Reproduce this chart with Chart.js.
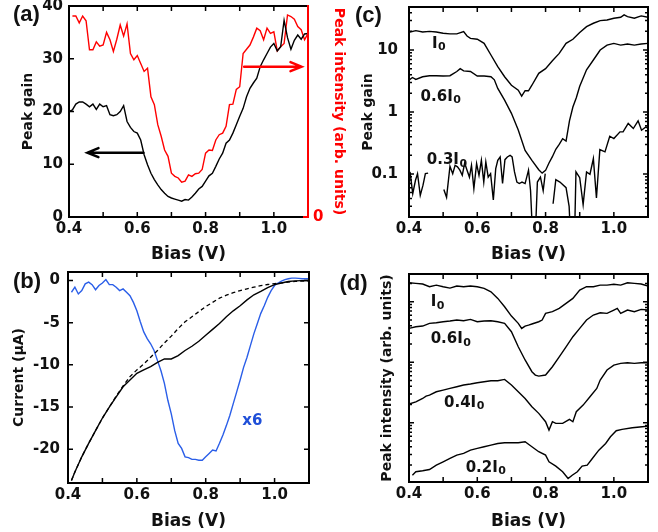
<!DOCTYPE html>
<html>
<head>
<meta charset="utf-8">
<script src="https://cdn.jsdelivr.net/npm/chart.js@4.4.0/dist/chart.umd.min.js"></script>
<style>
  html, body { margin: 0; padding: 0; background: #fff; }
  #wrap { position: relative; width: 658px; height: 532px; overflow: hidden; }
  canvas { position: absolute; }
</style>
</head>
<body>
<div id="wrap">
  <canvas id="pa" width="350" height="265" style="left:0;top:0;width:350px;height:265px"></canvas>
  <canvas id="pc" width="328" height="265" style="left:330px;top:0;width:328px;height:265px"></canvas>
  <canvas id="pb" width="330" height="267" style="left:0;top:265px;width:330px;height:267px"></canvas>
  <canvas id="pd" width="328" height="267" style="left:330px;top:265px;width:328px;height:267px"></canvas>
</div>
<script>
// ---- data ----
const xTickValues = [0.4, 0.5, 0.6, 0.7, 0.8, 0.9, 1.0, 1.1];
const xTickLabels = ['0.4', '', '0.6', '', '0.8', '', '1.0', ''];

// (a) peak gain (left axis) and peak intensity (right axis, arb. units)
const aBias = [0.40, 0.41, 0.42, 0.43, 0.44, 0.45, 0.46, 0.47, 0.48, 0.49, 0.50, 0.51, 0.52, 0.53, 0.54, 0.55,
  0.56, 0.57, 0.58, 0.59, 0.60, 0.61, 0.62, 0.63, 0.64, 0.65, 0.66, 0.67, 0.68, 0.69, 0.70, 0.71, 0.72, 0.73,
  0.74, 0.75, 0.76, 0.77, 0.78, 0.79, 0.80, 0.81, 0.82, 0.83, 0.84, 0.85, 0.86, 0.87, 0.88, 0.89, 0.90, 0.91,
  0.92, 0.93, 0.94, 0.95, 0.96, 0.97, 0.98, 0.99, 1.00, 1.01, 1.02, 1.03, 1.04, 1.05, 1.06, 1.07, 1.08, 1.09, 1.10];
const aGain = [20.0, 20.3, 21.4, 21.8, 21.8, 21.4, 20.9, 21.4, 20.4, 21.4, 20.9, 21.1, 19.4, 19.2, 19.4, 20.0,
  21.1, 18.1, 17.0, 16.2, 15.9, 14.6, 11.8, 9.9, 8.3, 7.1, 6.1, 5.2, 4.5, 3.9, 3.6, 3.4, 3.2, 3.0,
  3.3, 3.2, 3.8, 4.5, 5.3, 5.8, 6.8, 7.8, 8.3, 9.6, 11.0, 12.1, 14.0, 14.6, 15.9, 17.5, 19.1, 20.6,
  22.8, 24.4, 25.4, 26.3, 28.5, 29.8, 31.0, 32.2, 32.9, 31.5, 32.3, 37.3, 34.0, 31.8, 33.5, 34.5, 33.7, 34.7, 34.8];
const aIntensity = [null, 38.1, 38.1, 36.8, 38.1, 37.2, 31.7, 31.7, 33.2, 32.4, 32.6, 35.0, 33.6, 31.4, 33.7, 36.4,
  34.3, 36.6, 31.0, 29.8, 30.6, 29.1, 27.6, 28.2, 22.8, 21.3, 17.5, 15.3, 12.7, 11.5, 8.3, 7.7, 7.4, 6.6,
  6.8, 8.0, 7.7, 8.2, 8.3, 9.0, 12.1, 12.7, 12.6, 14.6, 15.6, 15.9, 17.2, 21.3, 21.4, 24.2, 24.7, 31.0,
  31.8, 32.6, 34.1, 35.8, 35.3, 33.6, 35.8, 34.8, 35.1, 31.5, 32.3, 32.9, 38.3, 38.0, 37.5, 36.1, 35.5, 33.6, 34.8];
const aGainTicks = [0, 10, 20, 30, 40];
const aArrows = [
  { from: 0.618, to: 0.454, y: 12.2, color: '#000', axis: 'y' },
  { from: 0.913, to: 1.081, y: 28.5, color: '#ff0000', axis: 'y' }
];

// (b) current
const bBias = [0.41, 0.42, 0.44, 0.46, 0.48, 0.50, 0.52, 0.54, 0.56, 0.58, 0.60, 0.62, 0.64, 0.66, 0.68, 0.70,
  0.72, 0.74, 0.76, 0.78, 0.80, 0.82, 0.84, 0.86, 0.88, 0.90, 0.92, 0.94, 0.96, 0.98, 1.00, 1.02, 1.04, 1.06, 1.08, 1.10];
const bCurrent = [-23.7, -22.7, -20.9, -19.3, -17.8, -16.3, -15.0, -13.8, -12.6, -11.8, -11.0, -10.6, -10.2, -9.7, -9.3, -9.3,
  -8.9, -8.3, -7.8, -7.2, -6.5, -5.8, -5.1, -4.3, -3.6, -3.0, -2.3, -1.7, -1.3, -0.85, -0.5, -0.3, -0.12, -0.05, -0.02, 0];
const bFit = [-23.7, -22.7, -20.9, -19.3, -17.8, -16.3, -15.0, -13.7, -12.5, -11.4, -10.6, -9.9, -9.1, -8.3, -7.4, -6.6,
  -5.7, -4.9, -4.3, -3.7, -3.1, -2.6, -2.1, -1.75, -1.45, -1.2, -1.0, -0.8, -0.62, -0.48, -0.38, -0.3, -0.2, -0.12, -0.08, -0.05];
const bBlueBias = [0.41, 0.42, 0.43, 0.44, 0.45, 0.46, 0.47, 0.48, 0.49, 0.50, 0.51, 0.52, 0.53, 0.54, 0.55, 0.56,
  0.57, 0.58, 0.59, 0.60, 0.61, 0.62, 0.63, 0.64, 0.65, 0.66, 0.67, 0.68, 0.69, 0.70, 0.71, 0.72, 0.73, 0.74,
  0.75, 0.76, 0.77, 0.78, 0.79, 0.80, 0.81, 0.82, 0.83, 0.84, 0.85, 0.86, 0.87, 0.88, 0.89, 0.90, 0.91, 0.92,
  0.93, 0.94, 0.95, 0.96, 0.97, 0.98, 0.99, 1.00, 1.01, 1.02, 1.03, 1.04, 1.05, 1.06, 1.07, 1.08, 1.09, 1.10];
const bBlue = [-1.4, -0.8, -1.6, -1.2, -0.4, -0.2, -0.5, -1.1, -0.6, -0.3, 0.1, -0.5, -0.5, -0.8, -1.2, -1.0,
  -1.4, -1.8, -2.6, -3.6, -4.9, -6.1, -6.9, -7.5, -8.3, -9.5, -10.7, -12.2, -14.2, -15.8, -17.8, -19.3, -19.9, -20.9,
  -21.0, -21.2, -21.2, -21.3, -21.3, -20.9, -20.5, -20.1, -20.2, -19.3, -18.3, -17.2, -16.0, -14.6, -13.2, -11.8, -10.3, -9.1,
  -7.7, -6.3, -5.1, -3.9, -3.0, -2.0, -1.2, -0.6, -0.3, -0.08, 0.1, 0.2, 0.28, 0.28, 0.25, 0.2, 0.2, 0.2];
const bTicks = [0, -5, -10, -15, -20];

// (c) peak gain, log axis
const cI0Bias = [0.40, 0.42, 0.44, 0.46, 0.48, 0.50, 0.52, 0.54, 0.56, 0.57, 0.58, 0.60, 0.62, 0.64, 0.66, 0.68,
  0.70, 0.72, 0.73, 0.74, 0.75, 0.76, 0.78, 0.80, 0.82, 0.84, 0.86, 0.88, 0.90, 0.92, 0.94, 0.96, 0.98, 1.00,
  1.02, 1.03, 1.04, 1.06, 1.08, 1.10];
const cI0 = [19.3, 20.5, 19.5, 20, 19.5, 18.6, 18.2, 18.2, 19.8, 16.8, 15.4, 14.9, 12.8, 8.3, 5.4, 3.7,
  2.7, 2.25, 1.8, 2.2, 2.2, 2.7, 4.2, 5.0, 6.7, 8.8, 12.8, 14.9, 19.1, 23.8, 27, 29.8, 30.5, 32.5,
  33.8, 36.8, 34.6, 32.5, 35.5, 33.8];
const c06Bias = [0.40, 0.41, 0.42, 0.44, 0.46, 0.48, 0.50, 0.52, 0.54, 0.55, 0.56, 0.58, 0.60, 0.62, 0.64, 0.65,
  0.66, 0.68, 0.70, 0.72, 0.74, 0.76, 0.78, 0.79, 0.80, 0.81, 0.82, 0.83, 0.84, 0.85, 0.86, 0.87, 0.88, 0.89,
  0.90, 0.92, 0.94, 0.96, 0.98, 1.00, 1.02, 1.04, 1.06, 1.08, 1.10];
const c06 = [3.27, 3.6, 3.35, 3.7, 3.85, 3.85, 3.8, 3.85, 4.5, 5.0, 4.6, 4.5, 3.8, 3.8, 3.7, 3.3,
  2.4, 1.55, 0.95, 0.51, 0.24, 0.166, 0.117, 0.103, 0.114, 0.15, 0.19, 0.25, 0.30, 0.37, 0.34, 0.72, 1.2, 1.7,
  2.6, 4.8, 6.9, 10, 12, 12.8, 12, 12.5, 12, 12.5, 12.8];
const c03Bias = [0.403, 0.411, 0.419, 0.425, 0.433, 0.441, 0.448, 0.456, 0.48,
  0.502, 0.510, 0.520, 0.528, 0.535, 0.542, 0.549, 0.556, 0.563, 0.570, 0.577, 0.583, 0.590, 0.598, 0.605,
  0.612, 0.619, 0.625, 0.632, 0.639, 0.647, 0.654, 0.660, 0.667, 0.674, 0.681, 0.688, 0.696, 0.702, 0.709,
  0.716, 0.723, 0.731, 0.740, 0.750, 0.756, 0.762, 0.770, 0.776, 0.785, 0.793, 0.799, 0.81,
  0.822, 0.830, 0.842, 0.860, 0.869, 0.873, 0.885, 0.889, 0.900, 0.910, 0.920, 0.930, 0.940, 0.949, 0.959,
  0.974, 0.988, 1.000, 1.018, 1.027, 1.042, 1.057, 1.071, 1.081, 1.094, 1.100];
const c03 = [0.108, 0.048, 0.079, 0.101, 0.045, 0.066, 0.101, 0.103, null,
  0.056, 0.042, 0.133, 0.101, 0.138, 0.130, 0.115, 0.095, 0.150, 0.115, 0.089, 0.138, 0.058, 0.147, 0.095,
  0.166, 0.074, 0.156, 0.089, 0.101, 0.038, 0.122, 0.166, 0.188, 0.070, 0.170, 0.188, 0.200, 0.188, 0.108,
  0.074, 0.070, 0.074, 0.070, 0.115, 0.054, 0.01, 0.01, 0.074, 0.089, 0.054, 0.101, null,
  0.033, 0.081, 0.074, 0.060, 0.030, 0.01, 0.01, 0.108, 0.087, 0.032, 0.108, 0.099, 0.177, 0.041, 0.247,
  0.227, 0.406, 0.372, 0.478, 0.478, 0.652, 0.541, 0.719, 0.508, 0.575, 0.541];
const cTickLabels = [0.1, 1, 10];

// (d) peak intensity, log axis (arb. units)
const dI0Bias = [0.40, 0.42, 0.44, 0.46, 0.48, 0.50, 0.52, 0.54, 0.56, 0.58, 0.60, 0.62, 0.64, 0.66, 0.68, 0.70,
  0.72, 0.73, 0.74, 0.75, 0.76, 0.78, 0.79, 0.80, 0.82, 0.84, 0.86, 0.88, 0.90, 0.92, 0.94, 0.96, 0.98, 1.00,
  1.02, 1.04, 1.06, 1.08, 1.10];
const dI0 = [2.06, 2.01, 1.96, 1.77, 1.88, 1.77, 1.68, 1.82, 1.77, 1.82, 1.77, 1.66, 1.46, 1.135, 0.826, 0.579,
  0.439, 0.362, 0.396, 0.411, 0.428, 0.467, 0.498, 0.641, 0.684, 0.776, 0.938, 1.135, 1.56, 1.77, 1.77, 1.88, 1.88, 1.94,
  1.88, 2.06, 2.01, 1.96, 1.82];
const d06Bias = [0.40, 0.42, 0.44, 0.46, 0.48, 0.50, 0.52, 0.54, 0.56, 0.58, 0.60, 0.62, 0.64, 0.66, 0.68, 0.70,
  0.72, 0.74, 0.76, 0.77, 0.78, 0.80, 0.82, 0.84, 0.86, 0.88, 0.90, 0.92, 0.94, 0.96, 0.98, 1.00, 1.01, 1.02,
  1.04, 1.06, 1.08, 1.10];
const d06 = [0.362, 0.386, 0.396, 0.439, 0.450, 0.467, 0.479, 0.498, 0.485, 0.511, 0.467, 0.479, 0.485, 0.467, 0.439, 0.319,
  0.180, 0.109, 0.0697, 0.0614, 0.0590, 0.0614, 0.0843, 0.123, 0.180, 0.264, 0.362, 0.498, 0.603, 0.658, 0.641, 0.728, 0.776, 0.641,
  0.728, 0.684, 0.746, 0.728];
const d04Bias = [0.40, 0.42, 0.44, 0.45, 0.46, 0.48, 0.50, 0.52, 0.54, 0.56, 0.58, 0.60, 0.62, 0.64, 0.66, 0.68,
  0.70, 0.72, 0.74, 0.76, 0.78, 0.80, 0.81, 0.82, 0.83, 0.85, 0.87, 0.88, 0.89, 0.91, 0.93, 0.95, 0.96, 0.98,
  1.00, 1.02, 1.04, 1.06, 1.08, 1.10];
const d04 = [0.0204, 0.0222, 0.0252, 0.0276, 0.0286, 0.0325, 0.0347, 0.0369, 0.0394, 0.0420, 0.0436, 0.0458, 0.0476, 0.0494, 0.0494, 0.0520,
  0.0420, 0.0325, 0.0252, 0.0184, 0.0143, 0.0104, 0.00757, 0.0104, 0.00975, 0.00975, 0.0114, 0.0104, 0.0152, 0.0196, 0.0269, 0.0369, 0.0507, 0.0743,
  0.0897, 0.0957, 0.0982, 0.0957, 0.0982, 0.0982];
const d02Bias = [0.41, 0.42, 0.44, 0.46, 0.48, 0.50, 0.52, 0.54, 0.56, 0.58, 0.60, 0.62, 0.64, 0.66, 0.68, 0.70,
  0.72, 0.74, 0.76, 0.78, 0.80, 0.81, 0.83, 0.85, 0.866, 0.878, 0.893, 0.907, 0.922, 0.937, 0.956, 0.976, 0.99,
  1.007, 1.024, 1.054, 1.083, 1.10];
const d02 = [0.00136, 0.00155, 0.00161, 0.00169, 0.00200, 0.00226, 0.00257, 0.00292, 0.00311, 0.00353, 0.00377, 0.00401, 0.00428, 0.00455, 0.00467, 0.00467,
  0.00467, 0.00485, 0.00401, 0.00332, 0.00292, 0.00226, 0.00192, 0.00155, 0.00120, 0.00136, 0.00155, 0.00192, 0.00200, 0.00257, 0.00353, 0.00455, 0.00587,
  0.00738, 0.00776, 0.00826, 0.00859, 0.00881];

// curve labels, placed in data units
const cNotes = [
  { main: 'I', sub: '0', x: 0.467, y: 10.8 },
  { main: '0.6I', sub: '0', x: 0.434, y: 1.52 },
  { main: '0.3I', sub: '0', x: 0.452, y: 0.143 }
];
const dNotes = [
  { main: 'I', sub: '0', x: 0.4635, y: 0.848 },
  { main: '0.6I', sub: '0', x: 0.4635, y: 0.205 },
  { main: '0.4I', sub: '0', x: 0.5025, y: 0.0184 },
  { main: '0.2I', sub: '0', x: 0.566, y: 0.00155 }
];
const bNotes = [{ main: 'x6', x: 0.906, y: -17.16, color: '#1f4fd8' }];

// ---- drawing ----
const INK = '#111';
const RED = '#ff0000';
const BLUE = '#2a5ee8';
const FONT = '"DejaVu Sans", sans-serif';
Chart.defaults.font.family = FONT;
Chart.defaults.font.weight = 'bold';
Chart.defaults.color = INK;

const pts = (xs, ys) => xs.map((x, i) => ({ x, y: ys[i] }));
const isDecade = v => Math.abs(Math.log10(v) - Math.round(Math.log10(v))) < 1e-6;
const noGrid = { display: false, drawTicks: false };

function logTicks(s) {
  const out = [];
  for (let e = Math.floor(Math.log10(s.min)); e <= Math.ceil(Math.log10(s.max)); e++) {
    for (let k = 1; k <= 9; k++) {
      const v = Number((k * Math.pow(10, e)).toPrecision(6));
      if (v >= s.min && v <= s.max) out.push({ value: v });
    }
  }
  s.ticks = out;
}

function xAxis(height, pad) {
  return {
    type: 'linear', min: 0.4, max: 1.1,
    grid: noGrid, border: { display: false },
    afterBuildTicks: s => { s.ticks = xTickValues.map(v => ({ value: v })); },
    afterFit: s => { s.height = height; s.paddingLeft = 0; s.paddingRight = 0; },
    ticks: { padding: pad, autoSkip: false, maxRotation: 0, font: { size: 15, weight: 'bold' },
      callback: (v, i) => xTickLabels[i] },
    title: { display: true, text: 'Bias (V)', font: { size: 17, weight: 'bold' }, padding: { top: 0, bottom: 0 } }
  };
}

function frame(opt) {
  return {
    id: 'frame',
    afterDatasetsDraw(chart) {
      const { ctx, chartArea: a } = chart;
      const xs = chart.scales.x, ys = chart.scales.y;
      ctx.save();
      ctx.strokeStyle = '#000';
      ctx.lineWidth = 1.5;
      ctx.beginPath();
      for (const t of xs.ticks) {
        const p = xs.getPixelForValue(t.value);
        if (p < a.left + 2 || p > a.right - 2) continue;
        ctx.moveTo(p, a.bottom); ctx.lineTo(p, a.bottom - 5);
        ctx.moveTo(p, a.top); ctx.lineTo(p, a.top + 5);
      }
      for (const t of ys.ticks) {
        const p = ys.getPixelForValue(t.value);
        if (p < a.top + 2 || p > a.bottom - 2) continue;
        const len = (opt.log && !isDecade(t.value)) ? 3 : 5;
        ctx.moveTo(a.left, p); ctx.lineTo(a.left + len, p);
        if (opt.mirrorY) { ctx.moveTo(a.right, p); ctx.lineTo(a.right - len, p); }
      }
      ctx.stroke();
      ctx.lineWidth = 2;
      ctx.strokeRect(a.left, a.top, a.right - a.left, a.bottom - a.top);
      if (opt.rightColor) {
        ctx.strokeStyle = opt.rightColor;
        ctx.beginPath();
        ctx.moveTo(a.right, a.top - 1); ctx.lineTo(a.right, a.bottom + 1);
        ctx.moveTo(a.right - 5, a.bottom); ctx.lineTo(a.right, a.bottom);
        ctx.stroke();
      }
      ctx.restore();
    }
  };
}

function notes(items, letter, arrows) {
  return {
    id: 'notes',
    afterDraw(chart) {
      const { ctx } = chart;
      const xs = chart.scales.x, ys = chart.scales.y;
      ctx.save();
      (arrows || []).forEach(ar => {
        const x0 = xs.getPixelForValue(ar.from), x1 = xs.getPixelForValue(ar.to);
        const y = chart.scales[ar.axis].getPixelForValue(ar.y);
        const dir = x1 > x0 ? 1 : -1;
        ctx.strokeStyle = ar.color; ctx.lineWidth = 2.5; ctx.lineCap = 'round';
        ctx.beginPath();
        ctx.moveTo(x0, y); ctx.lineTo(x1, y);
        ctx.moveTo(x1 - dir * 11, y - 4.5); ctx.lineTo(x1, y); ctx.lineTo(x1 - dir * 11, y + 4.5);
        ctx.stroke();
      });
      ctx.textAlign = 'left';
      ctx.textBaseline = 'alphabetic';
      items.forEach(n => {
        const px = xs.getPixelForValue(n.x), py = ys.getPixelForValue(n.y);
        ctx.fillStyle = n.color || INK;
        ctx.font = 'bold 15px ' + FONT;
        ctx.fillText(n.main, px, py);
        if (n.sub) {
          const w = ctx.measureText(n.main).width;
          ctx.font = 'bold 11px ' + FONT;
          ctx.fillText(n.sub, px + w + 0.5, py + 2.5);
        }
      });
      ctx.fillStyle = INK;
      ctx.font = 'bold 22px "Liberation Sans", Arial, sans-serif';
      ctx.fillText(letter.text, letter.x, letter.y);
      ctx.restore();
    }
  };
}

const base = (padding) => ({
  responsive: false, animation: false, devicePixelRatio: 1, events: [],
  layout: { padding },
  plugins: { legend: { display: false }, tooltip: { enabled: false } },
  elements: { point: { radius: 0 }, line: { tension: 0, borderWidth: 1.4 } }
});

// (a)
new Chart(document.getElementById('pa'), {
  type: 'line',
  data: { datasets: [
    { data: pts(aBias, aGain), borderColor: '#000', yAxisID: 'y' },
    { data: pts(aBias, aIntensity), borderColor: RED, yAxisID: 'y2' }
  ] },
  options: Object.assign(base({ top: 6, right: 0, bottom: 0, left: 0 }), {
    scales: {
      x: xAxis(48, 3.5),
      y: {
        type: 'linear', position: 'left', min: 0, max: 40,
        grid: noGrid, border: { display: false },
        afterBuildTicks: s => { s.ticks = aGainTicks.map(v => ({ value: v })); },
        afterFit: s => { s.width = 69; s.paddingTop = 0; s.paddingBottom = 0; },
        ticks: { padding: 6, font: { size: 15, weight: 'bold' } },
        title: { display: true, text: 'Peak gain', font: { size: 14, weight: 'bold' }, padding: { top: 19.6, bottom: 0 } }
      },
      y2: {
        type: 'linear', position: 'right', min: 0, max: 40,
        grid: noGrid, border: { display: false },
        afterBuildTicks: s => { s.ticks = [{ value: 0 }]; },
        afterFit: s => { s.width = 42; s.paddingTop = 0; s.paddingBottom = 0; },
        ticks: { padding: 5, color: RED, font: { size: 15, weight: 'bold' } },
        title: { display: true, text: 'Peak intensity (arb. units)', color: RED, font: { size: 14, weight: 'bold' }, padding: { top: 2.6, bottom: 0 } }
      }
    }
  }),
  plugins: [frame({ mirrorY: false, rightColor: RED }), notes([], { text: '(a)', x: 13, y: 21.4 }, aArrows)]
});

// (c)
new Chart(document.getElementById('pc'), {
  type: 'line',
  data: { datasets: [
    { data: pts(cI0Bias, cI0), borderColor: '#000' },
    { data: pts(c06Bias, c06), borderColor: '#000' },
    { data: pts(c03Bias, c03), borderColor: '#000' }
  ] },
  options: Object.assign(base({ top: 7, right: 10, bottom: 0, left: 0 }), {
    scales: {
      x: xAxis(48, 3.5),
      y: {
        type: 'logarithmic', min: 0.0202, max: 49.4,
        grid: noGrid, border: { display: false },
        afterBuildTicks: logTicks,
        afterFit: s => { s.width = 79; s.paddingTop = 0; s.paddingBottom = 0; },
        ticks: { padding: 11, autoSkip: false, font: { size: 15, weight: 'bold' },
          callback: v => { const t = cTickLabels.find(c => Math.abs(v / c - 1) < 1e-6); return t === undefined ? '' : String(t); } },
        title: { display: true, text: 'Peak gain', font: { size: 14, weight: 'bold' }, padding: { top: 29.6, bottom: 0 } }
      }
    }
  }),
  plugins: [frame({ mirrorY: true, log: true }), notes(cNotes, { text: '(c)', x: 25, y: 22.4 })]
});

// (b)
new Chart(document.getElementById('pb'), {
  type: 'line',
  data: { datasets: [
    { data: pts(bBias, bFit), borderColor: '#000', borderDash: [4, 3], borderWidth: 1.3 },
    { data: pts(bBias, bCurrent), borderColor: '#000' },
    { data: pts(bBlueBias, bBlue), borderColor: BLUE }
  ] },
  options: Object.assign(base({ top: 7, right: 21, bottom: 0, left: 0 }), {
    scales: {
      x: xAxis(49, 3),
      y: {
        type: 'linear', min: -24, max: 1,
        grid: noGrid, border: { display: false },
        afterBuildTicks: s => { s.ticks = bTicks.map(v => ({ value: v })); },
        afterFit: s => { s.width = 68; s.paddingTop = 0; s.paddingBottom = 0; },
        ticks: { padding: 8, font: { size: 15, weight: 'bold' }, callback: v => String(v) },
        title: { display: true, text: 'Current (μA)', font: { size: 14, weight: 'bold' }, padding: { top: 10.6, bottom: 0 } }
      }
    }
  }),
  plugins: [frame({ mirrorY: true }), notes(bNotes, { text: '(b)', x: 13, y: 23.4 })]
});

// (d)
new Chart(document.getElementById('pd'), {
  type: 'line',
  data: { datasets: [
    { data: pts(dI0Bias, dI0), borderColor: '#000' },
    { data: pts(d06Bias, d06), borderColor: '#000' },
    { data: pts(d04Bias, d04), borderColor: '#000' },
    { data: pts(d02Bias, d02), borderColor: '#000' }
  ] },
  options: Object.assign(base({ top: 9, right: 10, bottom: 0, left: 0 }), {
    scales: {
      x: xAxis(50, 3.5),
      y: {
        type: 'logarithmic', min: 0.00105, max: 2.87,
        grid: noGrid, border: { display: false },
        afterBuildTicks: logTicks,
        afterFit: s => { s.width = 79; s.paddingTop = 0; s.paddingBottom = 0; },
        ticks: { display: false },
        title: { display: true, text: 'Peak intensity (arb. units)', font: { size: 14, weight: 'bold' }, padding: { top: 48.6, bottom: 0 } }
      }
    }
  }),
  plugins: [frame({ mirrorY: true, log: true }), notes(dNotes, { text: '(d)', x: 9.5, y: 25.4 })]
});
</script>
</body>
</html>
